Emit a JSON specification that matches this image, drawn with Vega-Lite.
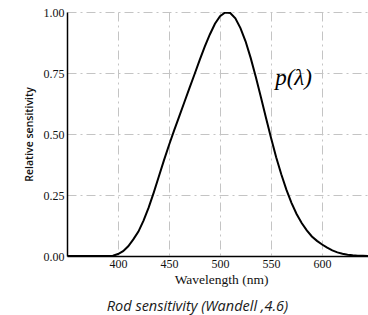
{
  "$schema": "https://vega.github.io/schema/vega-lite/v6.json",
  "autosize": "none",
  "padding": {"left": 67, "top": 12, "right": 0, "bottom": 59},
  "width": 301,
  "height": 244,
  "background": "white",
  "title": {
    "text": "Rod sensitivity (Wandell ,4.6)",
    "orient": "bottom",
    "anchor": "middle",
    "dx": -20,
    "offset": 14,
    "font": "Open Sans",
    "fontStyle": "italic",
    "fontWeight": "normal",
    "fontSize": 14.5,
    "color": "#1a1a1a"
  },
  "config": {
    "view": {"stroke": null},
    "axis": {
      "domainColor": "black",
      "domainWidth": 1.5,
      "ticks": false,
      "labelFont": "Liberation Serif",
      "labelFontSize": 12,
      "labelColor": "#111",
      "titleColor": "#111",
      "gridColor": "#c4c4c4",
      "gridWidth": 1,
      "gridDash": [9, 4, 2, 4]
    }
  },
  "layer": [
    {
      "data": {
        "values": [
          {"wl": 350, "s": 0},
          {"wl": 390, "s": 0},
          {"wl": 395, "s": 0.001},
          {"wl": 400, "s": 0.008},
          {"wl": 405, "s": 0.02},
          {"wl": 410, "s": 0.04},
          {"wl": 415, "s": 0.068},
          {"wl": 420, "s": 0.1},
          {"wl": 425, "s": 0.145},
          {"wl": 430, "s": 0.198},
          {"wl": 435, "s": 0.26},
          {"wl": 440, "s": 0.326},
          {"wl": 445, "s": 0.392},
          {"wl": 450, "s": 0.455},
          {"wl": 455, "s": 0.515},
          {"wl": 460, "s": 0.572},
          {"wl": 465, "s": 0.63},
          {"wl": 470, "s": 0.688},
          {"wl": 475, "s": 0.745},
          {"wl": 480, "s": 0.803},
          {"wl": 485, "s": 0.858},
          {"wl": 490, "s": 0.908},
          {"wl": 495, "s": 0.952},
          {"wl": 500, "s": 0.983},
          {"wl": 505, "s": 0.998},
          {"wl": 510, "s": 0.996},
          {"wl": 515, "s": 0.974},
          {"wl": 520, "s": 0.934},
          {"wl": 525, "s": 0.88},
          {"wl": 530, "s": 0.812},
          {"wl": 535, "s": 0.735},
          {"wl": 540, "s": 0.652},
          {"wl": 545, "s": 0.567},
          {"wl": 550, "s": 0.484},
          {"wl": 555, "s": 0.405},
          {"wl": 560, "s": 0.335},
          {"wl": 565, "s": 0.272},
          {"wl": 570, "s": 0.218},
          {"wl": 575, "s": 0.172},
          {"wl": 580, "s": 0.135},
          {"wl": 585, "s": 0.105},
          {"wl": 590, "s": 0.08},
          {"wl": 595, "s": 0.062},
          {"wl": 600, "s": 0.047},
          {"wl": 605, "s": 0.034},
          {"wl": 610, "s": 0.023},
          {"wl": 615, "s": 0.015},
          {"wl": 620, "s": 0.009},
          {"wl": 625, "s": 0.005},
          {"wl": 630, "s": 0.003},
          {"wl": 635, "s": 0.0015},
          {"wl": 640, "s": 0.0007},
          {"wl": 645, "s": 0.0003}
        ]
      },
      "mark": {"type": "line", "color": "black", "strokeWidth": 2, "clip": true},
      "encoding": {
        "x": {
          "field": "wl",
          "type": "quantitative",
          "scale": {"domain": [350, 645], "nice": false, "zero": false},
          "axis": {
            "title": "Wavelength (nm)",
            "titleFont": "Liberation Serif",
            "titleFontSize": 13.5,
            "titleFontWeight": "normal",
            "titleX": 154,
            "values": [400, 450, 500, 550, 600],
            "labelPadding": 2,
            "titlePadding": 3,
            "grid": true
          }
        },
        "y": {
          "field": "s",
          "type": "quantitative",
          "scale": {"domain": [0, 1], "nice": false},
          "axis": {
            "title": "Relative sensitivity",
            "titleFont": "Open Sans",
            "titleFontSize": 10.5,
            "titleFontWeight": 600,
            "values": [0, 0.25, 0.5, 0.75, 1],
            "format": ".2f",
            "labelPadding": 3,
            "titlePadding": 9,
            "grid": true
          }
        }
      }
    },
    {
      "mark": {"type": "rule", "color": "black", "strokeWidth": 1.5},
      "encoding": {"y": {"datum": 1}}
    },
    {
      "data": {"values": [{"wl": 554, "s": 0.7, "label": "p(λ)"}]},
      "mark": {
        "type": "text",
        "align": "left",
        "baseline": "alphabetic",
        "font": "Liberation Serif",
        "fontStyle": "italic",
        "fontSize": 23,
        "color": "black"
      },
      "encoding": {
        "x": {"field": "wl", "type": "quantitative"},
        "y": {"field": "s", "type": "quantitative"},
        "text": {"field": "label"}
      }
    }
  ]
}
